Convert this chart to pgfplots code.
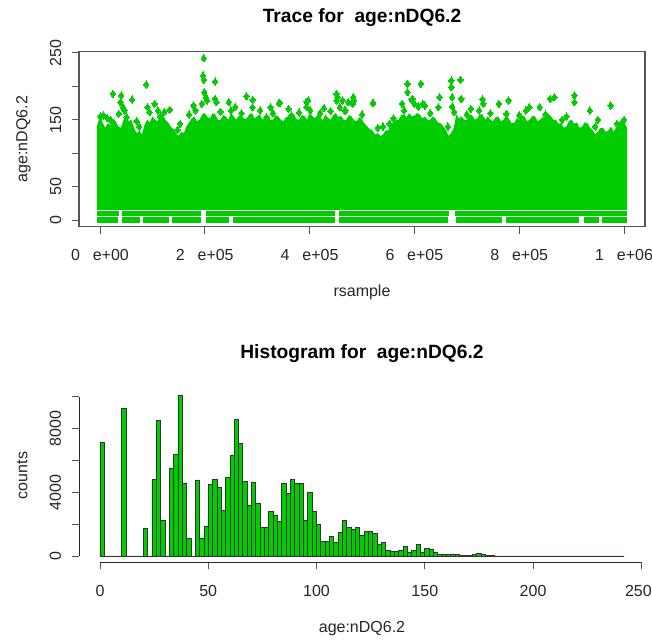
\documentclass[border=0pt]{standalone}
\usepackage{fontspec}
\setmainfont{Liberation Sans}
\usepackage{pgfplots}
\pgfplotsset{compat=1.18}
\definecolor{grn}{RGB}{0,205,0}
\definecolor{axgray}{RGB}{85,85,85}
\newcommand{\bfs}{\fontsize{16bp}{19bp}\selectfont}
\newcommand{\tfs}{\fontsize{19.2bp}{23bp}\selectfont\bfseries}
\begin{document}
\begin{tikzpicture}
\useasboundingbox (0bp,0bp) rectangle (652bp,-641bp);
% ---------------- Trace panel ----------------
\begin{axis}[
  at={(79bp,-226.7bp)}, anchor=south west,
  scale only axis, width=566bp, height=175bp,
  xmin=-40000, xmax=1040000, ymin=-9.68, ymax=251.68,
  axis line style={axgray, line width=1.1bp},
  tick align=outside, xtick pos=left, ytick pos=left,
  major tick length=7bp,
  tick style={axgray, line width=0.9bp},
  scaled x ticks=false, scaled y ticks=false,
  xtick={0,200000,400000,600000,800000,1000000},
  xticklabels={0\hspace{0.8em}e+00,2\hspace{0.8em}e+05,4\hspace{0.8em}e+05,6\hspace{0.8em}e+05,8\hspace{0.8em}e+05,1\hspace{0.8em}e+06},
  ytick={0,50,100,150,200,250},
  yticklabels={0,50,,150,,250},
  tick label style={font=\bfs, text=black!85},
  label style={font=\bfs, text=black!85},
  xticklabel style={anchor=base, yshift=-27bp},
  yticklabel style={xshift=-11bp, rotate=90, anchor=base},
  title={Trace for\ \ age:nDQ6.2},
  title style={at={(axis description cs:0.5,1.133)}, anchor=base, font=\tfs},
  xlabel={rsample},
  xlabel style={at={(axis description cs:0.5,-0.396)}, anchor=base},
  ylabel={age:nDQ6.2},
  ylabel style={at={(axis description cs:-0.091,0.5)}, anchor=base},
]
% dense core of the chain (upper envelope)
\addplot[fill=grn, draw=none] coordinates {
(-6000,140) (0,156) (5000,146) (10000,138) (15000,145) (20000,142) (25000,152) (30000,148) (35000,140)
(40000,138) (45000,150) (50000,156) (55000,148) (60000,150) (65000,138) (70000,130) (75000,134)
(80000,128) (85000,142) (90000,150) (95000,146) (100000,155) (105000,150) (110000,148) (115000,156)
(120000,157) (125000,150) (130000,146) (135000,140) (140000,136) (145000,130) (150000,126) (155000,132)
(160000,130) (165000,140) (170000,146) (175000,152) (180000,155) (185000,148) (190000,150) (195000,158)
(200000,160) (205000,154) (210000,152) (215000,160) (220000,158) (225000,150) (230000,150) (235000,157)
(240000,155) (245000,150) (250000,160) (255000,155) (260000,150) (265000,156) (270000,158) (275000,151)
(280000,152) (285000,158) (290000,160) (295000,152) (300000,155) (305000,158) (310000,150) (315000,154)
(320000,158) (325000,150) (330000,150) (335000,157) (340000,155) (345000,150) (350000,148) (355000,154)
(360000,155) (365000,160) (370000,158) (375000,151) (380000,150) (385000,157) (390000,156) (395000,150)
(400000,160) (405000,156) (410000,152) (415000,158) (420000,155) (425000,149) (430000,158) (435000,153)
(440000,150) (445000,157) (450000,160) (455000,154) (460000,156) (465000,150) (470000,150) (475000,157)
(480000,155) (485000,149) (490000,148) (495000,154) (500000,150) (505000,144) (510000,140) (515000,136)
(520000,134) (525000,128) (530000,130) (535000,126) (540000,128) (545000,134) (550000,134) (555000,142)
(560000,145) (565000,150) (570000,150) (575000,157) (580000,158) (585000,154) (590000,160) (595000,155)
(600000,156) (605000,160) (610000,158) (615000,152) (620000,155) (625000,150) (630000,150) (635000,155)
(640000,152) (645000,146) (650000,145) (655000,140) (660000,135) (665000,126) (670000,130) (675000,138)
(680000,158) (685000,152) (690000,155) (695000,150) (700000,150) (705000,157) (710000,157) (715000,150)
(720000,152) (725000,158) (730000,158) (735000,150) (740000,155) (745000,150) (750000,148) (755000,154)
(760000,155) (765000,148) (770000,150) (775000,156) (780000,152) (785000,145) (790000,145) (795000,152)
(800000,150) (805000,156) (810000,155) (815000,148) (820000,150) (825000,156) (830000,155) (835000,148)
(840000,150) (845000,154) (850000,152) (855000,158) (860000,156) (865000,150) (870000,150) (875000,144)
(880000,145) (885000,138) (890000,140) (895000,148) (900000,150) (905000,144) (910000,146) (915000,138)
(920000,140) (925000,146) (930000,145) (935000,138) (940000,135) (945000,128) (950000,132) (955000,138)
(960000,138) (965000,132) (970000,134) (975000,140) (980000,132) (985000,138) (990000,140) (995000,146)
(1000000,146) (1006000,138) (1006000,15.5) (-6000,15.5)
};
% rows of draws at 0 and 10
\addplot[grn, line width=5.6bp, unbounded coords=jump] coordinates {
(-5000,0) (35000,0) (36000,nan) (43000,0) (76000,0) (77000,nan) (82000,0) (132000,0) (133000,nan)
(138000,0) (193000,0) (194000,nan) (203000,0) (247000,0) (248000,nan) (253000,0) (449000,0) (450000,nan)
(457000,0) (665000,0) (666000,nan) (679000,0) (768000,0) (769000,nan) (774000,0) (915000,0) (916000,nan)
(923000,0) (952000,0) (953000,nan) (958000,0) (1005000,0)
};
\addplot[grn, line width=5.6bp, unbounded coords=jump] coordinates {
(-5000,10) (36000,10) (37000,nan) (42000,10) (193000,10) (194000,nan) (203000,10) (449000,10) (450000,nan)
(457000,10) (666000,10) (667000,nan) (678000,10) (1005000,10)
};
% scattered draws above the core
\addplot[only marks, mark=diamond*, mark size=3.6bp, color=grn, mark options={fill=grn, draw=grn, line width=0pt}] coordinates {
(1000,155) (7000,156.5) (13500,153) (24700,188.8) (40600,186.3) (39000,176.4) (43800,169)
(61300,180.4) (47000,164) (35800,159) (51000,154) (88400,202.7) (90800,169) (94700,161.5)
(104300,173.9) (110700,164) (122600,161.5) (133000,165) (152900,144) (178300,171.4) (182300,164)
(198200,242) (196700,216.1) (198200,209.7) (199000,191.3) (202200,183.8) (204600,178.9) (194300,173.9)
(219700,207.2) (219700,181.3) (222100,176.4) (246000,176.4) (250000,164) (258000,169)
(279500,185.3) (291400,179.9) (291000,168.9) (305700,164) (317700,154) (325400,168.9) (341300,174.8)
(343200,175.4) (359900,166.4) (365400,156.5) (394200,176.9) (394200,168.9) (397300,178.9) (401300,164)
(427500,167.4) (451400,188.8) (453000,183.8) (451500,178.8) (457800,168.9) (462600,178.9) (468900,164)
(466800,163.9) (473700,176.3) (483300,183.8) (484900,178.9) (482000,173.9) (520700,174.9) (521500,174.8)
(552500,144) (586800,203.7) (586800,191.3) (596300,181.3) (600300,173.9) (576400,173.9) (580400,164)
(594800,179.8) (607500,169.9) (612300,203.7) (616200,173.9) (620200,171.4) (645700,168.9) (648100,183.8)
(670400,208.7) (670400,198.7) (672000,183.8) (672000,169.9) (676000,161.5) (687900,209.7) (689500,181.3)
(707800,166.4) (723700,164) (730100,180.4) (731700,173.9) (761100,173.9) (779500,178.9) (775500,159)
(812900,164) (819300,169) (839200,169) (859100,181.3) (867000,183.8) (905300,186.3) (905300,176.4)
(934700,164) (974500,171.4) (986500,144) (994400,139.1)
(20000,150) (70000,148) (115000,155) (170000,158) (230000,162) (270000,160) (330000,160)
(380000,161) (420000,160) (440000,163) (500000,158) (560000,152) (630000,160) (700000,158)
(745000,160) (800000,157) (850000,158) (890000,155) (950000,150) (1000000,150) (995000,145)
(75000,140) (148000,135) (530000,138) (540000,140) (664000,140) (945000,140) (882000,150)
};
\end{axis}
% ---------------- Histogram panel ----------------
\begin{axis}[
  at={(79bp,-562.4bp)}, anchor=south west,
  scale only axis, width=566bp, height=173.8bp,
  xmin=-9.68, xmax=251.68, ymin=-404, ymax=10510,
  axis x line*=bottom, axis y line*=left,
  axis line style={draw=none},
  clip=false,
  tick align=outside, major tick length=7bp,
  tick style={axgray, line width=0.9bp},
  scaled x ticks=false, scaled y ticks=false,
  xtick={0,50,100,150,200,250},
  xticklabels={0,50,100,150,200,{\hspace*{-6bp}250}},
  ytick={0,2000,4000,6000,8000,10000},
  yticklabels={0,,4000,,8000,},
  tick label style={font=\bfs, text=black!85},
  label style={font=\bfs, text=black!85},
  xticklabel style={anchor=base, yshift=-27bp},
  yticklabel style={xshift=-11bp, rotate=90, anchor=base},
  title={Histogram for\ \ age:nDQ6.2},
  title style={at={(axis description cs:0.5,1.138)}, anchor=base, font=\tfs},
  xlabel={age:nDQ6.2},
  xlabel style={at={(axis description cs:0.5,-0.4005)}, anchor=base},
  ylabel={counts},
  ylabel style={at={(axis description cs:-0.091,0.5)}, anchor=base},
]
\draw[black!85, line width=0.9bp] (axis cs:0,-404) -- (axis cs:250,-404);
\draw[black!85, line width=0.9bp] (axis cs:-9.68,0) -- (axis cs:-9.68,10000);
\addplot[ybar interval, fill=grn, draw=black!80, line width=0.8bp] coordinates {
(0,7156) (2,0) (4,0) (6,0) (8,0) (10,9248) (12,0) (14,0) (16,0) (18,0)
(20,1757) (22,0) (24,4833) (26,8516) (28,2239) (30,0) (32,5503) (34,6361) (36,10106) (38,4561)
(40,1088) (42,0) (44,4771) (46,1088) (48,1883) (50,4499) (52,4812) (54,4289) (56,2866) (58,4938)
(60,6298) (62,8578) (64,7093) (66,4708) (68,3180) (70,4645) (72,3306) (74,1820) (76,1820) (78,2804)
(80,2574) (82,2176) (84,4561) (86,3954) (88,4812) (90,4530) (92,4561) (94,2250) (96,4017) (98,2800)
(100,1988) (102,890) (104,890) (106,1213) (108,837) (110,1464) (112,2250) (114,1810) (116,1674) (118,1800)
(120,1318) (122,1527) (124,1527) (126,1423) (128,753) (130,870) (132,335) (134,293) (136,293) (138,335)
(140,586) (142,251) (144,335) (146,711) (148,251) (150,460) (152,418) (154,251) (156,84) (158,126)
(160,84) (162,126) (164,84) (166,40) (168,40) (170,40) (172,126) (174,167) (176,84) (178,40)
(180,40) (182,0) (184,0) (186,0) (188,0) (190,0) (192,0) (194,0) (196,0) (198,0)
(200,0) (202,0) (204,0) (206,0) (208,0) (210,0) (212,0) (214,0) (216,0) (218,0)
(220,0) (222,0) (224,0) (226,0) (228,0) (230,0) (232,0) (234,0) (236,0) (238,0)
(240,0) (242,0)
};
\end{axis}
\end{tikzpicture}
\end{document}
